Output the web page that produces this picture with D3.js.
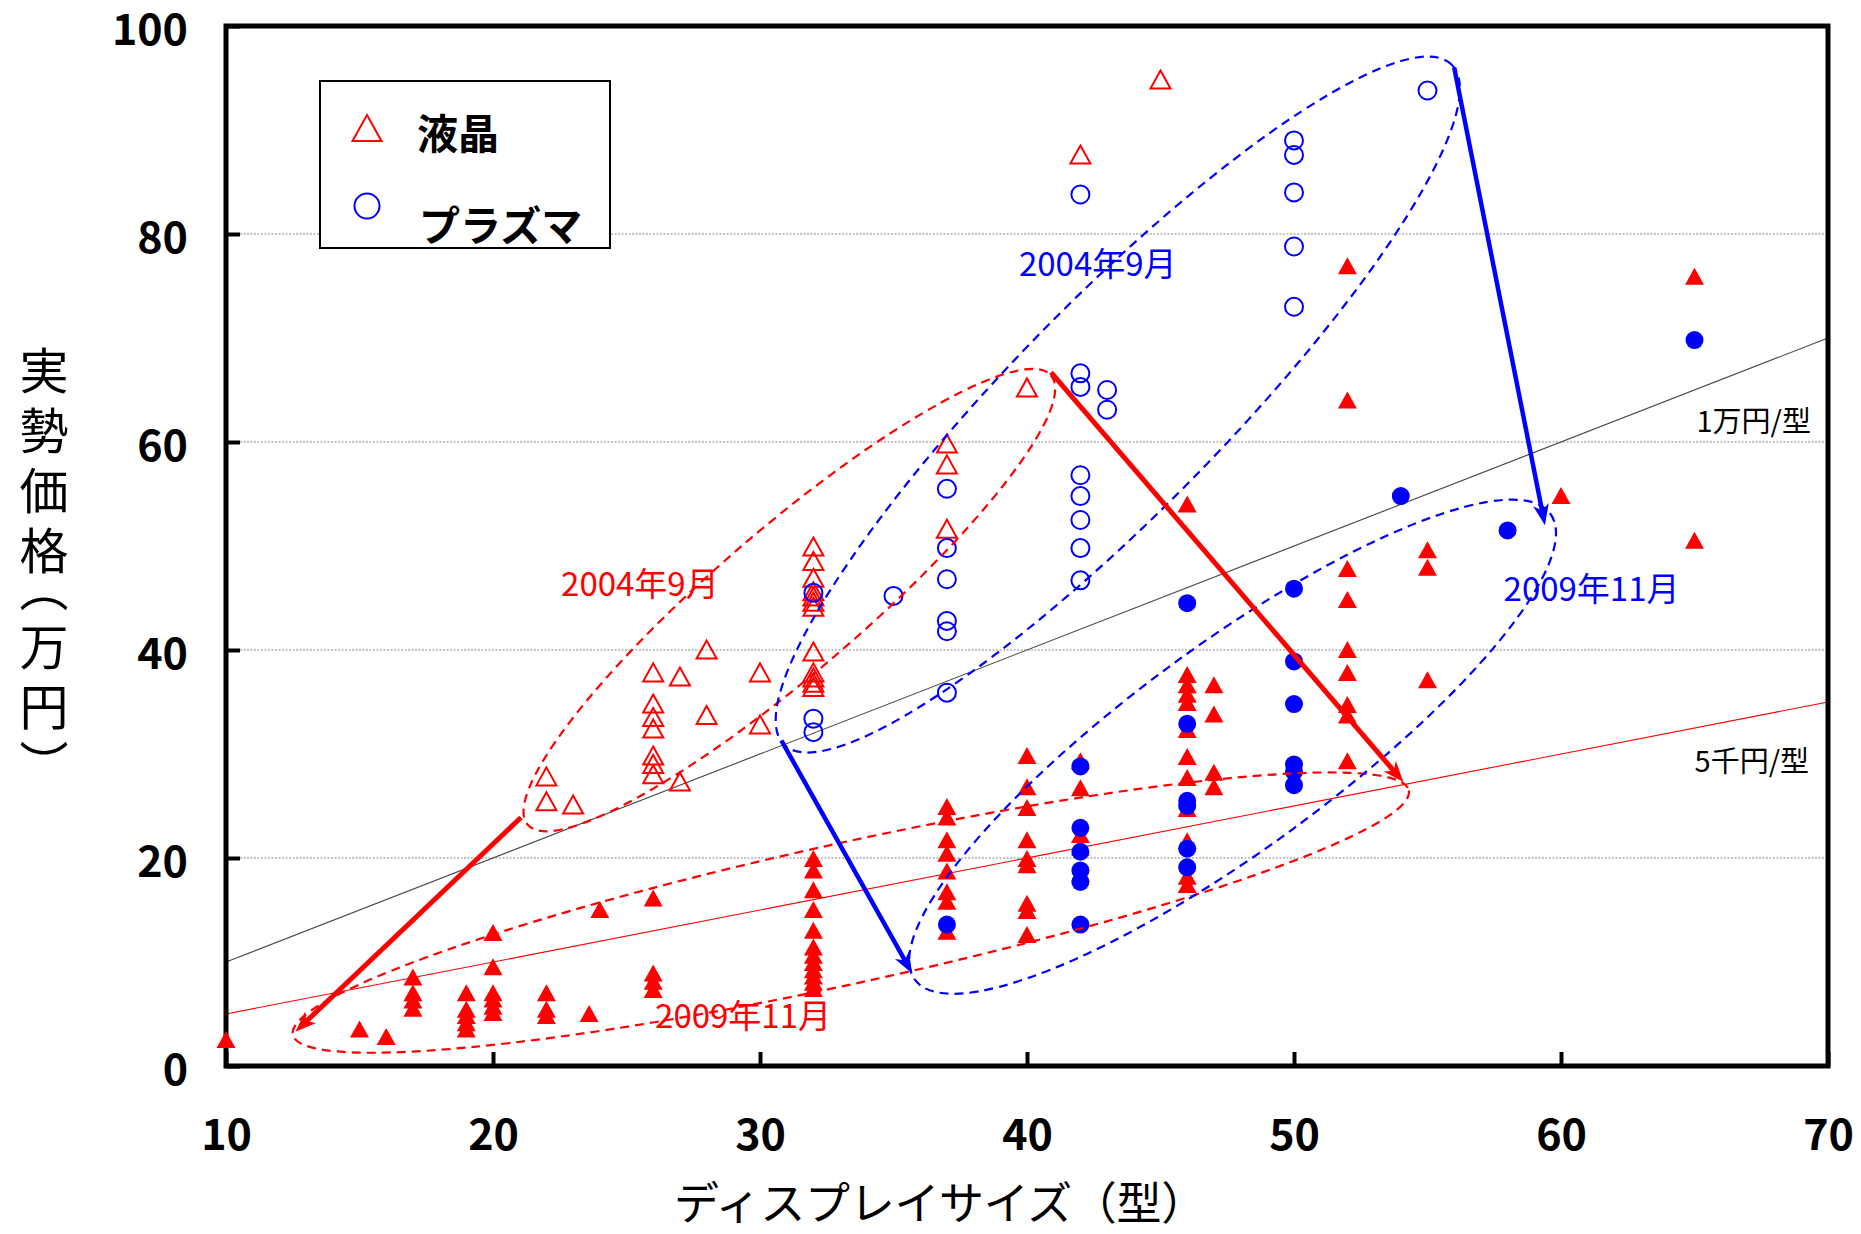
<!DOCTYPE html>
<html>
<head>
<meta charset="utf-8">
<script src="https://cdn.jsdelivr.net/npm/d3@7"></script>
<style>
  body { margin: 0; background: white; }
  text { font-family: "Noto Sans CJK JP", "Noto Sans", sans-serif; }
</style>
</head>
<body>
<div id="container"></div>
<script>
//colors
let red = "#ff0000";
let blue = "#0000ff";

//axis ticks
let xTicks = [10, 20, 30, 40, 50, 60, 70];
let yTicks = [0, 20, 40, 60, 80, 100];

//[size (型), price (万円)]
let lcd2004 = [
  [22, 27.8], [22, 25.4], [23, 25.1],
  [26, 37.8], [26, 34.8], [26, 33.5], [26, 32.4], [26, 29.8], [26, 29.0], [26, 28.0],
  [27, 37.4], [27, 27.3], [28, 40.0], [28, 33.7], [30, 37.8], [30, 32.8],
  [32, 49.9], [32, 48.5], [32, 46.9], [32, 45.6], [32, 45.1], [32, 44.6], [32, 44.1],
  [32, 39.8], [32, 37.8], [32, 37.3], [32, 36.8], [32, 36.4],
  [37, 59.8], [37, 57.8], [37, 51.6], [40, 65.2], [42, 87.6], [45, 94.8]
];
let plasma2004 = [
  [32, 45.5], [32, 33.4], [32, 32.1], [35, 45.2],
  [37, 55.5], [37, 49.8], [37, 46.8], [37, 42.8], [37, 41.8], [37, 35.9],
  [42, 83.8], [42, 66.6], [42, 65.3], [42, 56.8], [42, 54.8], [42, 52.5], [42, 49.8], [42, 46.7],
  [43, 65.0], [43, 63.1],
  [50, 89.0], [50, 87.6], [50, 84.0], [50, 78.8], [50, 73.0], [55, 93.8]
];
let lcd2009 = [
  [10, 2.5], [15, 3.5], [16, 2.8],
  [17, 8.5], [17, 7.0], [17, 6.3], [17, 5.5],
  [19, 7.0], [19, 5.4], [19, 4.8], [19, 4.1], [19, 3.5],
  [20, 12.8], [20, 9.5], [20, 7.0], [20, 6.4], [20, 5.7], [20, 5.1],
  [22, 7.0], [22, 5.4], [22, 4.8], [23.6, 5.0], [24, 15.0],
  [26, 16.1], [26, 8.9], [26, 8.1], [26, 7.3],
  [32, 19.9], [32, 18.8], [32, 16.9], [32, 15.0], [32, 13.0], [32, 11.4], [32, 10.6],
  [32, 9.9], [32, 9.2], [32, 8.6], [32, 8.0], [32, 7.4],
  [37, 24.9], [37, 23.9], [37, 21.7], [37, 20.4], [37, 18.7], [37, 16.7], [37, 15.8], [37, 12.9],
  [40, 29.8], [40, 26.8], [40, 24.8], [40, 21.7], [40, 19.9], [40, 19.3], [40, 15.6], [40, 14.9], [40, 12.6],
  [42, 29.3], [42, 26.7], [42, 22.2], [42, 21.0], [42, 18.5],
  [46, 54.0], [46, 37.6], [46, 36.6], [46, 35.7], [46, 34.9], [46, 32.3], [46, 29.7],
  [46, 27.7], [46, 24.7], [46, 21.6], [46, 18.2], [46, 17.4],
  [47, 36.6], [47, 33.8], [47, 28.2], [47, 26.8],
  [52, 76.9], [52, 64.0], [52, 47.8], [52, 44.8], [52, 40.0], [52, 37.8], [52, 34.7], [52, 33.7], [52, 29.3],
  [55, 49.6], [55, 47.9], [55, 37.1], [60, 54.8], [65, 75.9], [65, 50.5]
];
let plasma2009 = [
  [37, 13.6],
  [42, 28.8], [42, 22.9], [42, 20.6], [42, 18.8], [42, 17.7], [42, 13.6],
  [46, 44.5], [46, 32.9], [46, 25.5], [46, 25.0], [46, 20.9], [46, 19.1],
  [50, 45.9], [50, 38.9], [50, 34.8], [50, 29.0], [50, 28.3], [50, 27.0],
  [54, 54.8], [58, 51.5], [65, 69.8]
];

//price per inch lines (万円 per 型)
let rates = [1, 0.5];
let rateLabels = ["1万円/型", "5千円/型"];

//annotation ellipses: tips of the long axis in data units, and width ratio
let ellipseTips = [
  [[21.3, 23.2], [40.9, 66.4]],   //LCD 2004
  [[30.9, 30.9], [55.9, 96.3]],   //plasma 2004
  [[12.5, 3.0], [54.3, 26.5]],    //LCD 2009
  [[35.8, 8.3], [59.6, 53.1]]     //plasma 2009
];
let ellipseRatio = [0.209, 0.221, 0.123, 0.259];

//arrows 2004 -> 2009
let arrowFrom = [[21.05, 23.9], [40.9, 66.7], [30.8, 31.3], [56.0, 96.0]];
let arrowTo = [[12.6, 3.3], [54.1, 27.3], [35.7, 8.9], [59.4, 52.0]];

let periodLabels = ["2004年9月", "2009年11月"];


let viz = d3.select("#container")
  .append("svg")
    .attr("width", 1861)
    .attr("height", 1234)
    .style("background-color", "white")
;

let x = d3.scaleLinear().domain([10, 70]).range([226, 1828]);
let y = d3.scaleLinear().domain([0, 100]).range([1066, 26]);

//grid
viz.append("g").selectAll("line")
  .data(yTicks.slice(1, -1))
  .join("line")
    .attr("x1", x(10)).attr("x2", x(70))
    .attr("y1", d => y(d)).attr("y2", d => y(d))
    .attr("stroke", "#8a8a8a")
    .attr("stroke-width", 1.2)
    .attr("stroke-dasharray", "2,1.5")
;

//reference lines
viz.append("g").selectAll("line")
  .data(rates)
  .join("line")
    .attr("x1", x(10)).attr("y1", d => y(10 * d))
    .attr("x2", x(70)).attr("y2", d => y(70 * d))
    .attr("stroke", (d, i) => i == 0 ? "#444" : red)
    .attr("stroke-width", 1.1)
;

//axes
let fontBold = g => g.selectAll("text")
  .attr("font-size", 43)
  .attr("font-weight", "bold")
  .attr("fill", "black")
  .attr("font-family", "'Liberation Sans', Arial, sans-serif");

viz.append("g")
  .attr("transform", `translate(0,${y(0)})`)
  .call(d3.axisBottom(x).tickValues(xTicks).tickSize(-14).tickPadding(53))
  .call(g => g.select(".domain").remove())
  .call(g => g.selectAll("line").attr("stroke-width", 4))
  .call(fontBold)
;

viz.append("g")
  .attr("transform", `translate(${x(10)},0)`)
  .call(d3.axisLeft(y).tickValues(yTicks).tickSize(-14).tickPadding(38))
  .call(g => g.select(".domain").remove())
  .call(g => g.selectAll("line").attr("stroke-width", 4))
  .call(fontBold)
  .call(g => g.selectAll("text").attr("dy", "0.42em"))
;

//frame
viz.append("rect")
  .attr("x", x(10)).attr("y", y(100))
  .attr("width", x(70) - x(10)).attr("height", y(0) - y(100))
  .attr("fill", "none")
  .attr("stroke", "black")
  .attr("stroke-width", 5)
;

//markers
let triOpen = "M0,-9.5L10,8.5L-10,8.5Z";
let triFull = "M0,-9L9.5,8L-9.5,8Z";

viz.append("g").selectAll("path")
  .data(lcd2004)
  .join("path")
    .attr("d", triOpen)
    .attr("transform", d => `translate(${x(d[0])},${y(d[1])})`)
    .attr("fill", "none")
    .attr("stroke", red)
    .attr("stroke-width", 2)
;

viz.append("g").selectAll("path")
  .data(lcd2009)
  .join("path")
    .attr("d", triFull)
    .attr("transform", d => `translate(${x(d[0])},${y(d[1])})`)
    .attr("fill", red)
;

viz.append("g").selectAll("circle")
  .data(plasma2004)
  .join("circle")
    .attr("cx", d => x(d[0])).attr("cy", d => y(d[1]))
    .attr("r", 9)
    .attr("fill", "none")
    .attr("stroke", blue)
    .attr("stroke-width", 2)
;

viz.append("g").selectAll("circle")
  .data(plasma2009)
  .join("circle")
    .attr("cx", d => x(d[0])).attr("cy", d => y(d[1]))
    .attr("r", 9)
    .attr("fill", blue)
;

//dashed ellipses
let ellipseColor = [red, blue, red, blue];
viz.append("g").selectAll("ellipse")
  .data(ellipseTips)
  .join("ellipse")
    .attr("transform", d => {
      let ax = x(d[0][0]), ay = y(d[0][1]), bx = x(d[1][0]), by = y(d[1][1]);
      let ang = Math.atan2(by - ay, bx - ax) * 180 / Math.PI;
      return `translate(${(ax + bx) / 2},${(ay + by) / 2}) rotate(${ang})`;
    })
    .attr("rx", d => Math.hypot(x(d[1][0]) - x(d[0][0]), y(d[1][1]) - y(d[0][1])) / 2)
    .attr("ry", (d, i) => Math.hypot(x(d[1][0]) - x(d[0][0]), y(d[1][1]) - y(d[0][1])) / 2 * ellipseRatio[i])
    .attr("fill", "none")
    .attr("stroke", (d, i) => ellipseColor[i])
    .attr("stroke-width", 2.2)
    .attr("stroke-dasharray", "9,6")
;

//arrows
let defs = viz.append("defs");
[["headRed", red], ["headBlue", blue]].forEach(h => {
  defs.append("marker")
    .attr("id", h[0])
    .attr("viewBox", "-22 -9 24 18")
    .attr("refX", -10).attr("refY", 0)
    .attr("markerWidth", 24).attr("markerHeight", 18)
    .attr("markerUnits", "userSpaceOnUse")
    .attr("orient", "auto")
  .append("path")
    .attr("d", "M0,0L-21,-8L-15,0L-21,8Z")
    .attr("fill", h[1]);
});

let arrowColor = [red, red, blue, blue];
viz.append("g").selectAll("line")
  .data(arrowFrom)
  .join("line")
    .each(function(d, i) {
      let ax = x(d[0]), ay = y(d[1]);
      let bx = x(arrowTo[i][0]), by = y(arrowTo[i][1]);
      let len = Math.hypot(bx - ax, by - ay);
      let k = (len - 10) / len;
      d3.select(this)
        .attr("x1", ax).attr("y1", ay)
        .attr("x2", ax + (bx - ax) * k).attr("y2", ay + (by - ay) * k);
    })
    .attr("stroke", (d, i) => arrowColor[i])
    .attr("stroke-width", (d, i) => i < 2 ? 5 : 4.5)
    .attr("marker-end", (d, i) => i < 2 ? "url(#headRed)" : "url(#headBlue)")
;

//period labels
viz.append("text").text(periodLabels[0])
  .attr("x", x(39.7)).attr("y", y(75.96))
  .attr("font-size", 33).attr("fill", blue);
viz.append("text").text(periodLabels[0])
  .attr("x", x(22.55)).attr("y", y(45.2))
  .attr("font-size", 33).attr("fill", red);
viz.append("text").text(periodLabels[1])
  .attr("x", x(57.85)).attr("y", y(44.7))
  .attr("font-size", 33).attr("fill", blue);
viz.append("text").text(periodLabels[1])
  .attr("x", x(26.07)).attr("y", y(3.65))
  .attr("font-size", 33).attr("fill", red);

//rate labels
viz.append("text").text(rateLabels[0])
  .attr("x", x(69.36)).attr("y", y(60.96))
  .attr("text-anchor", "end")
  .attr("font-size", 29).attr("fill", "black");
viz.append("text").text(rateLabels[1])
  .attr("x", x(69.29)).attr("y", y(28.27))
  .attr("text-anchor", "end")
  .attr("font-size", 29).attr("fill", "black");

//legend
viz.append("rect")
  .attr("x", 320).attr("y", 81)
  .attr("width", 290).attr("height", 167)
  .attr("fill", "white")
  .attr("stroke", "black")
  .attr("stroke-width", 2)
;
viz.append("path")
  .attr("d", "M0,-13L14.5,13L-14.5,13Z")
  .attr("transform", "translate(367,128)")
  .attr("fill", "none").attr("stroke", red).attr("stroke-width", 2);
viz.append("circle")
  .attr("cx", 367).attr("cy", 206).attr("r", 12.5)
  .attr("fill", "none").attr("stroke", blue).attr("stroke-width", 2);
viz.append("text").text("液晶")
  .attr("x", 417).attr("y", 149)
  .attr("font-size", 41).attr("font-weight", "bold");
viz.append("text").text("プラズマ")
  .attr("x", 419).attr("y", 241)
  .attr("font-size", 41).attr("font-weight", "bold");

//axis titles
viz.append("text").text("ディスプレイサイズ（型）")
  .attr("x", 940).attr("y", 1220)
  .attr("text-anchor", "middle")
  .attr("font-size", 45)
  .attr("letter-spacing", -0.3)
;

viz.append("text").text("実勢価格（万円）")
  .attr("x", 44).attr("y", 346)
  .style("writing-mode", "vertical-rl")
  .style("font-feature-settings", "'vpal'")
  .attr("letter-spacing", 11)
  .attr("font-size", 49)
;
</script>
</body>
</html>
